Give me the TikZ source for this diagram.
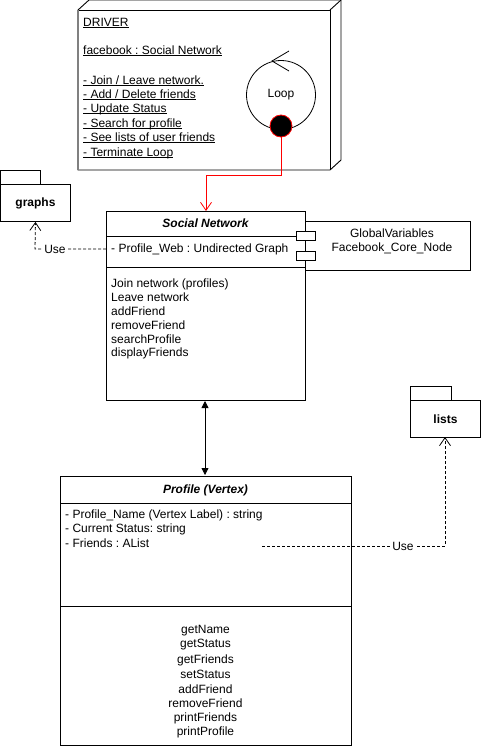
\documentclass[tikz,border=0pt]{standalone}
\usepackage{fontspec}
\setmainfont{Liberation Sans}
\usetikzlibrary{arrows.meta,calc}
\frenchspacing
\begin{document}
\begin{tikzpicture}[x=1pt,y=-1pt,
  txt/.style={inner sep=0pt,font=\fontsize{12}{14}\selectfont},
  ltxt/.style={txt,anchor=base west},
  box/.style={draw,line width=0.9pt},
  dashline/.style={dashed,dash pattern=on 3pt off 2pt,line width=0.8pt},
  openhead/.style={-{Straight Barb[length=8pt,width=11pt,line width=0.8pt]}},
  lbl/.style={txt,fill=white,inner sep=1pt}]
\useasboundingbox (0,0) rectangle (481,747);
% ---------- DRIVER node (3D box) ----------
\draw[box,fill=white] (78,10) -- (89,0) -- (341,0) -- (341,160) -- (330,170) -- (78,170) -- cycle;
\draw[box] (78,10) -- (330,10) -- (330,170);
\draw[box] (330,10) -- (341,0);
\draw[gray,line width=1.4pt] (78,10) -- (78,170);
\node[ltxt] (drv) at (83,26) {DRIVER};
\node[ltxt] (fb) at (83,54) {facebook : Social Network};
\node[ltxt] (d1) at (83,84) {- Join / Leave network.};
\node[ltxt] (d2) at (83,98) {- Add / Delete friends};
\node[ltxt] (d3) at (83,112) {- Update Status};
\node[ltxt] (d4) at (83,127) {- Search for profile};
\node[ltxt] (d5) at (83,141) {- See lists of user friends};
\node[ltxt] (d6) at (83,156) {- Terminate Loop};
\foreach \n in {drv,fb,d1,d2,d3,d4,d5,d6}
  \draw[line width=0.7pt] ($(\n.base west)+(0,1.8)$) -- ($(\n.base east)+(0,1.8)$);
% loop
\node[draw,circle,minimum size=69pt,inner sep=0pt,line width=0.8pt] (loop) at (281,95) {};
\node[txt] (looptxt) at (281,95) {Loop};
\draw[line width=0.8pt] (289,51) -- (272,61) -- (289,71);
\node[circle,draw=red,fill=black,minimum size=22pt,inner sep=0pt,line width=0.8pt] (endpt) at (281,126) {};
% ---------- graphs package ----------
\draw[box,fill=white] (0,170) rectangle (40,184);
\node[box,fill=white,minimum width=70pt,minimum height=37pt,anchor=north west,inner sep=0pt] (graphs) at (0,184) {};
\node[txt,font=\fontsize{12}{14}\selectfont\bfseries] at (graphs.center) {graphs};
% ---------- lists package ----------
\draw[box,fill=white] (410,386) rectangle (451,400);
\node[box,fill=white,minimum width=70pt,minimum height=37pt,anchor=north west,inner sep=0pt] (lists) at (410,400) {};
\node[txt,font=\fontsize{12}{14}\selectfont\bfseries] at (lists.center) {lists};
% ---------- Global variables component ----------
\node[box,fill=white,minimum width=165pt,minimum height=49pt,anchor=north west,inner sep=0pt] (glob) at (305,221) {};
\node[txt] at (392,233) {GlobalVariables};
\node[txt] at (392,248) {Facebook\_Core\_Node};
% ---------- Social Network class ----------
\node[box,fill=white,minimum width=199pt,minimum height=189pt,anchor=north west,inner sep=0pt] (sn) at (106,211) {};
\draw[box] (106,236) -- (305,236);
\draw[box] (106,267) -- (305,267);
\node[txt,font=\fontsize{12}{14}\selectfont\bfseries\itshape] (snt) at (205.5,223) {Social Network};
\node[txt,anchor=west] (snattr) at (111,249) {- Profile\_Web : Undirected Graph};
\node[txt,anchor=west] at (111,284) {Join network (profiles)};
\node[txt,anchor=west] at (111,297) {Leave network};
\node[txt,anchor=west] at (111,311) {addFriend};
\node[txt,anchor=west] at (111,325) {removeFriend};
\node[txt,anchor=west] at (111,339) {searchProfile};
\node[txt,anchor=west] at (111,353) {displayFriends};
\draw[box,fill=white] (296,231) rectangle (315,240);
\draw[box,fill=white] (296,251) rectangle (315,260);
% ---------- Profile class ----------
\node[box,fill=white,minimum width=291pt,minimum height=269pt,anchor=north west,inner sep=0pt] (prof) at (60,476) {};
\draw[box] (60,503) -- (351,503);
\draw[box] (60,606) -- (351,606);
\node[txt,font=\fontsize{12}{14}\selectfont\bfseries\itshape] at (205.5,490) {Profile (Vertex)};
\node[txt,anchor=west] at (65,515) {- Profile\_Name (Vertex Label) : string};
\node[txt,anchor=west] at (65,529) {- Current Status: string};
\node[txt,anchor=west] (friends) at (65,543) {- Friends : AList};
\node[txt] at (205.5,631) {getName};
\node[txt] at (205.5,645) {getStatus};
\node[txt] at (205.5,660) {getFriends};
\node[txt] at (205.5,674) {setStatus};
\node[txt] at (205.5,689) {addFriend};
\node[txt] at (205.5,703) {removeFriend};
\node[txt] at (205.5,718) {printFriends};
\node[txt] at (205.5,732) {printProfile};
% ---------- connectors ----------
\draw[red,line width=0.8pt,openhead] (endpt.south) |- (206,175) -- (206,211);
\draw[line width=0.8pt,{Triangle[length=7pt,width=7pt]}-{Triangle[length=7pt,width=7pt]}] (205,401) -- (205,475);
\draw[dashline,openhead] (sn.west |- snattr) -- (35,249) -- (graphs.south);
\node[lbl] at (55,249) {Use};
\coordinate (usestart) at (262,546);
\draw[dashline,openhead] (usestart) -- (445,546) -- (445,437);
\node[lbl] at (403,546) {Use};
\end{tikzpicture}
\end{document}
